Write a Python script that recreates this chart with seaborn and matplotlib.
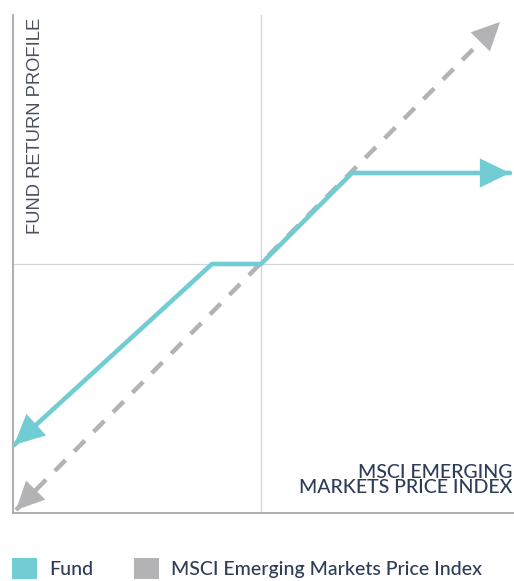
import matplotlib
matplotlib.use("Agg")
import matplotlib.pyplot as plt
import seaborn as sns
import pandas as pd
from matplotlib.patches import Patch

sns.set_theme(style="white")
plt.rcParams['font.family'] = ['Lato', 'DejaVu Sans']

# Data (units relative to the origin where the two reference lines cross)
fund_x = [-2.47, -0.49, 0.0, 0.91, 2.49]
fund_y = [-1.81, 0.0, 0.0, 0.91, 0.91]
index_x = [-2.45, 2.39]
index_y = [-2.46, 2.42]
series_names = ["Fund", "MSCI Emerging Markets Price Index"]

teal = "#72CCD4"
grey = "#B3B3B5"
navy = "#2E3C57"

fig = plt.figure(figsize=(5.14, 5.81), dpi=100)
ax = fig.add_axes([13/514, 68/581, 501/514, 498/581])
ax.set_xlim(-2.48, 2.53)
ax.set_ylim(-2.49, 2.49)

# reference cross lines
ax.axhline(0, color="#D6D6D6", lw=0.9, zorder=1)
ax.axvline(0, color="#D6D6D6", lw=0.9, zorder=1)

df_fund = pd.DataFrame({"x": fund_x, "y": fund_y})
df_idx = pd.DataFrame({"x": index_x, "y": index_y})

sns.lineplot(data=df_idx, x="x", y="y", ax=ax, color=grey, lw=3.2,
             sort=False, estimator=None, zorder=2)
ax.lines[-1].set_dashes([3.4, 2.8])
sns.lineplot(data=df_fund, x="x", y="y", ax=ax, color=teal, lw=3.3,
             sort=False, estimator=None, zorder=3)

def short(xs, ys, i_end, i_prev, frac):
    return xs[i_end] + (xs[i_prev]-xs[i_end])*frac, ys[i_end] + (ys[i_prev]-ys[i_end])*frac

def head(xs, ys, i_end, i_prev, frac, color, ms):
    hx, hy = short(xs, ys, i_end, i_prev, frac)
    ax.annotate("", xy=(xs[i_end], ys[i_end]), xytext=(hx, hy),
                arrowprops=dict(arrowstyle="-|>,head_length=1.55,head_width=0.75",
                                color=color, lw=0, shrinkA=0, shrinkB=0,
                                mutation_scale=ms), zorder=4)

head(fund_x, fund_y, 4, 3, 0.15, teal, 14)
head(fund_x, fund_y, 0, 1, 0.15, teal, 14)
head(index_x, index_y, 1, 0, 0.05, grey, 13)
head(index_x, index_y, 0, 1, 0.05, grey, 13)

for s in ["top", "right"]:
    ax.spines[s].set_visible(False)
for s in ["left", "bottom"]:
    ax.spines[s].set_color("#A8A8A8")
    ax.spines[s].set_linewidth(1.3)
ax.set_xticks([])
ax.set_yticks([])
ax.set_xlabel("")
ax.set_ylabel("")
ax.patch.set_alpha(0)

fig.text(36/514, 1-126/581, "FUND RETURN PROFILE", rotation=90, ha="center", va="center",
         fontsize=13.2, color="#4A4F5A", family="Liberation Sans")
fig.text(512/514, 1-480/581, "MSCI EMERGING\nMARKETS PRICE INDEX", ha="right", va="center",
         fontsize=14, color=navy, linespacing=0.85, weight="medium")

handles = [Patch(facecolor=teal, edgecolor="none"), Patch(facecolor=grey, edgecolor="none")]
fig.legend(handles, series_names, loc="lower left", bbox_to_anchor=(12/514, 2/581),
           borderaxespad=0, borderpad=0,
           ncol=2, frameon=False, handlelength=1.3, handleheight=1.3,
           handletextpad=0.6, columnspacing=2.1, labelcolor=navy,
           prop={"size": 14, "weight": "medium"})

fig.savefig("out.png", dpi=100)
